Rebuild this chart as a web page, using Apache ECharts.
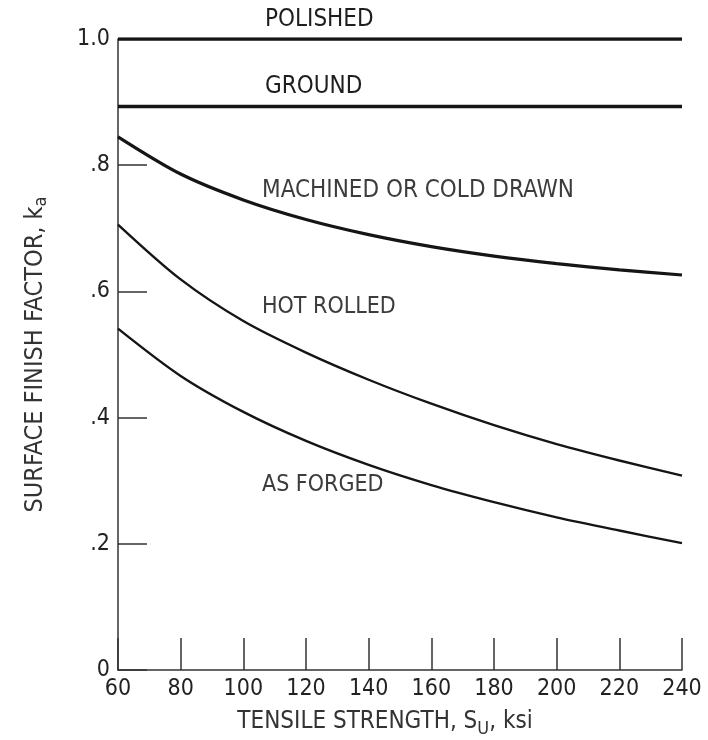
<!DOCTYPE html>
<html>
<head>
<meta charset="utf-8">
<script src="https://cdn.jsdelivr.net/npm/echarts@6/dist/echarts.min.js"></script>
<style>
html,body{margin:0;padding:0;background:#fff;}
#chart{width:708px;height:740px;}
</style>
</head>
<body>
<div id="chart"></div>
<script>
// Tensile strength, ksi
var strength = [60, 80, 100, 120, 140, 160, 180, 200, 220, 240];
var polished = [1.0, 1.0, 1.0, 1.0, 1.0, 1.0, 1.0, 1.0, 1.0, 1.0];
var ground = [0.893, 0.893, 0.893, 0.893, 0.893, 0.893, 0.893, 0.893, 0.893, 0.893];
var machined = [0.845, 0.786, 0.745, 0.714, 0.690, 0.671, 0.656, 0.644, 0.634, 0.626];
var hotRolled = [0.706, 0.619, 0.553, 0.503, 0.460, 0.422, 0.388, 0.358, 0.332, 0.308];
var asForged = [0.541, 0.466, 0.409, 0.363, 0.325, 0.293, 0.266, 0.242, 0.221, 0.201];
var xTicks = [60, 80, 100, 120, 140, 160, 180, 200, 220, 240];
var yTickLabels = {0: '0', 0.2: '.2', 0.4: '.4', 0.6: '.6', 0.8: '.8', 1: '1.0'};

var FONT = "'DejaVu Sans Condensed', 'Liberation Sans Narrow', 'DejaVu Sans', sans-serif";
var INK = '#151515';
var LABEL = '#3c3c3c';

function pairs(ys) { return strength.map(function (x, i) { return [x, ys[i]]; }); }

function lineSeries(name, ys, width, smooth) {
  return {
    name: name, type: 'line', data: pairs(ys), smooth: smooth ? 0.3 : false,
    showSymbol: false, symbol: 'none', silent: true,
    lineStyle: {color: INK, width: width}
  };
}

var chart = echarts.init(document.getElementById('chart'));
chart.setOption({
  animation: false,
  backgroundColor: '#ffffff',
  grid: {left: 118, right: 26, top: 39, bottom: 70, containLabel: false, outerBoundsMode: 'none'},
  xAxis: {
    type: 'value', min: 60, max: 240, interval: 20,
    axisLine: {show: true, lineStyle: {color: '#333', width: 1.5}},
    axisTick: {show: true, inside: true, length: 32, lineStyle: {color: '#333', width: 1.5}},
    splitLine: {show: false},
    axisLabel: {
      margin: 8, color: '#222', fontFamily: FONT, fontSize: 23,
      formatter: function (v) { return xTicks.indexOf(v) >= 0 ? String(v) : ''; }
    },
    name: '{t|TENSILE STRENGTH, S}{s|U}{t|, ksi}',
    nameLocation: 'middle', nameGap: 36,
    nameTextStyle: {
      padding: [0, 30, 0, 0],
      rich: {
        t: {fontFamily: FONT, fontSize: 24, color: '#333'},
        s: {fontFamily: FONT, fontSize: 18, color: '#333', verticalAlign: 'bottom', padding: [14, 0, 0, 0]}
      }
    }
  },
  yAxis: {
    type: 'value', min: 0, max: 1, interval: 0.2,
    axisLine: {show: true, lineStyle: {color: '#333', width: 1.5}},
    axisTick: {show: true, inside: true, length: 29, lineStyle: {color: '#333', width: 1.5}},
    splitLine: {show: false},
    axisLabel: {
      margin: 8, color: '#222', fontFamily: FONT, fontSize: 23,
      formatter: function (v) { var k = Math.round(v * 10) / 10; return yTickLabels[k] !== undefined ? yTickLabels[k] : ''; }
    },
    name: '{t|SURFACE FINISH FACTOR, k}{s|a}',
    nameLocation: 'middle', nameGap: 68, nameRotate: 90,
    nameTextStyle: {
      rich: {
        t: {fontFamily: FONT, fontSize: 25, color: '#333'},
        s: {fontFamily: FONT, fontSize: 18, color: '#333', padding: [12, 0, 0, 0]}
      }
    }
  },
  series: [
    lineSeries('Polished', polished, 3.5, false),
    lineSeries('Ground', ground, 3.5, false),
    lineSeries('Machined or cold drawn', machined, 3.2, true),
    lineSeries('Hot rolled', hotRolled, 2.4, true),
    lineSeries('As forged', asForged, 2.4, true)
  ],
  graphic: [
    {type: 'text', left: 265, top: 8, silent: true, style: {text: 'POLISHED', fontFamily: FONT, fontSize: 24, fill: '#1e1e1e'}},
    {type: 'text', left: 265, top: 75, silent: true, style: {text: 'GROUND', fontFamily: FONT, fontSize: 24, fill: '#1e1e1e'}},
    {type: 'text', left: 262, top: 179, silent: true, style: {text: 'MACHINED OR COLD DRAWN', fontFamily: FONT, fontSize: 24, fill: LABEL}},
    {type: 'text', left: 262, top: 296, silent: true, style: {text: 'HOT ROLLED', fontFamily: FONT, fontSize: 23, fill: LABEL}},
    {type: 'text', left: 262, top: 474, silent: true, style: {text: 'AS FORGED', fontFamily: FONT, fontSize: 23, fill: LABEL}}
  ]
});
</script>
</body>
</html>
